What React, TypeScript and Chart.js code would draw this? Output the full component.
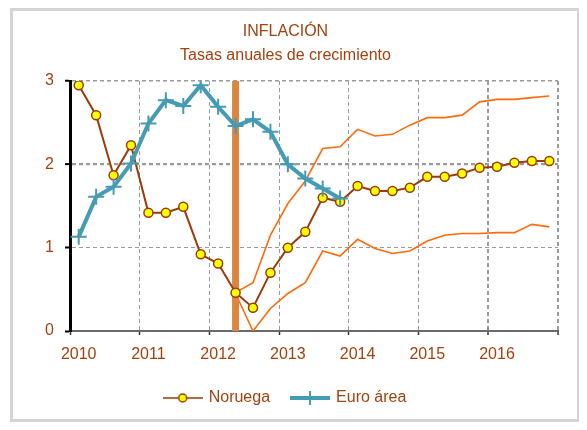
import { useEffect, useRef } from 'react';
import { Chart, registerables } from 'chart.js';

Chart.register(...registerables);

// ---- data ----
const years = ['2010', '2011', '2012', '2013', '2014', '2015', '2016'];
const quarterNames = ['T1', 'T2', 'T3', 'T4'];
const quarters = years.flatMap((y) => quarterNames.map((q) => `${y}${q}`));

const noruega = [
  2.95, 2.59, 1.87, 2.23, 1.42, 1.42, 1.49, 0.92, 0.81, 0.46, 0.28, 0.7, 1.0, 1.19,
  1.6, 1.55, 1.74, 1.68, 1.68, 1.72, 1.85, 1.85, 1.89, 1.96, 1.97, 2.02, 2.04, 2.04,
];
const euroArea = [
  1.13, 1.61, 1.73, 2.01, 2.49, 2.77, 2.7, 2.95, 2.69, 2.46, 2.54, 2.39, 2.0, 1.83, 1.71, 1.59,
];
const bandStart = '2012T2';
const bandUpper = [
  0.46, 0.58, 1.15, 1.53, 1.8, 2.19, 2.21, 2.42, 2.34, 2.36, 2.47, 2.56, 2.56, 2.59, 2.75, 2.78,
  2.78, 2.8, 2.82,
];
const bandLower = [
  0.45, 0.0, 0.27, 0.45, 0.58, 0.96, 0.9, 1.1, 0.99, 0.93, 0.96, 1.08, 1.15, 1.17, 1.17, 1.18,
  1.18, 1.28, 1.25,
];
const shockQuarter = '2012T2';
const yTicks = [0, 1, 2, 3];
const xYears = [2010, 2011, 2012, 2013, 2014, 2015, 2016, 2017];

const TEXT = '#A3420F';
const BROWN = '#9C3A08';
const TEAL = '#469BB4';
const ORANGE = '#FF6A0A';
const BAR = '#DA8640';
const FONT = "'Liberation Sans', Arial, sans-serif";

const xOf = (label: string) =>
  Number(label.slice(0, 4)) + (Number(label.slice(5)) - 0.5) / 4;

function seriesPoints(values: number[], startLabel: string) {
  const start = quarters.indexOf(startLabel);
  return values.map((v, i) => ({ x: xOf(quarters[start + i]), y: v }));
}

function makeIcon(kind: 'n' | 'e') {
  const c = document.createElement('canvas');
  c.width = 40;
  c.height = 18;
  const g = c.getContext('2d')!;
  g.lineCap = 'butt';
  if (kind === 'n') {
    g.strokeStyle = BROWN;
    g.lineWidth = 1.5;
    g.beginPath();
    g.moveTo(0, 9);
    g.lineTo(40, 9);
    g.stroke();
    g.beginPath();
    g.arc(20, 9, 4, 0, Math.PI * 2);
    g.fillStyle = '#FFFF00';
    g.fill();
    g.lineWidth = 1.5;
    g.stroke();
  } else {
    g.strokeStyle = TEAL;
    g.lineWidth = 4;
    g.beginPath();
    g.moveTo(0, 9);
    g.lineTo(40, 9);
    g.stroke();
    g.lineWidth = 2;
    g.beginPath();
    g.moveTo(20, 2);
    g.lineTo(20, 16);
    g.stroke();
  }
  return c;
}

export default function App() {
  const ref = useRef<HTMLCanvasElement>(null);

  useEffect(() => {
    if (!ref.current) return;
    const iconN = makeIcon('n');
    const iconE = makeIcon('e');
    const yMin = yTicks[0];
    const yMax = yTicks[yTicks.length - 1];

    const chart = new Chart(ref.current, {
      type: 'line',
      data: {
        datasets: [
          {
            label: 'Euro área',
            data: seriesPoints(euroArea, quarters[0]),
            borderColor: TEAL,
            borderWidth: 4,
            pointStyle: 'cross',
            pointRadius: 8,
            pointBorderWidth: 2,
            pointBorderColor: TEAL,
            pointBackgroundColor: TEAL,
          },
          {
            label: 'Noruega',
            data: seriesPoints(noruega, quarters[0]),
            borderColor: BROWN,
            borderWidth: 2,
            pointStyle: 'circle',
            pointRadius: 4.5,
            pointBorderWidth: 1.5,
            pointBorderColor: BROWN,
            pointBackgroundColor: '#FFFF00',
          },
          {
            label: 'shock',
            data: [
              { x: xOf(shockQuarter), y: yMin },
              { x: xOf(shockQuarter), y: yMax },
            ],
            borderColor: BAR,
            borderWidth: 7,
            borderCapStyle: 'butt',
            pointRadius: 0,
          },
          {
            label: 'upper',
            data: seriesPoints(bandUpper, bandStart),
            borderColor: ORANGE,
            borderWidth: 1.6,
            pointRadius: 0,
          },
          {
            label: 'lower',
            data: seriesPoints(bandLower, bandStart),
            borderColor: ORANGE,
            borderWidth: 1.6,
            pointRadius: 0,
          },
        ],
      },
      options: {
        responsive: false,
        animation: false,
        events: [],
        layout: { padding: { left: 0, right: 19, top: 0, bottom: 3 } },
        plugins: {
          tooltip: { enabled: false },
          title: {
            display: true,
            text: ['INFLACIÓN', 'Tasas anuales de crecimiento'],
            color: TEXT,
            font: { family: FONT, size: 16, weight: 'normal', lineHeight: 1.5 },
            padding: { top: 9, bottom: 13 },
          },
          legend: {
            position: 'bottom',
            labels: {
              usePointStyle: true,
              pointStyleWidth: 36,
              boxHeight: 16,
              padding: 22,
              color: TEXT,
              font: { family: FONT, size: 16 },
              generateLabels: () => [
                {
                  text: 'Noruega',
                  pointStyle: iconN,
                  fillStyle: 'transparent',
                  strokeStyle: 'transparent',
                  lineWidth: 0,
                  hidden: false,
                  datasetIndex: 1,
                  fontColor: TEXT,
                } as any,
                {
                  text: 'Euro área',
                  pointStyle: iconE,
                  fillStyle: 'transparent',
                  strokeStyle: 'transparent',
                  lineWidth: 0,
                  hidden: false,
                  datasetIndex: 0,
                  fontColor: TEXT,
                } as any,
              ],
            },
          },
        },
        scales: {
          x: {
            type: 'linear',
            min: xYears[0],
            max: xYears[xYears.length - 1],
            afterBuildTicks: (s: any) => {
              s.ticks = xYears.map((v) => ({ value: v }));
            },
            afterFit: (s: any) => {
              s.height = 37;
            },
            ticks: {
              stepSize: 1,
              autoSkip: false,
              maxRotation: 0,
              labelOffset: 8.7,
              padding: 10,
              color: TEXT,
              font: { family: FONT, size: 16 },
              callback: (v: any) => (v < xYears[xYears.length - 1] ? String(v) : ''),
            },
            grid: {
              color: '#9a9a9a',
              lineWidth: (c: any) => (c.tick && c.tick.value >= 2016 ? 2 : 1),
              tickColor: '#333',
              tickLength: 4,
              tickWidth: 1.5,
              tickBorderDash: [],
            },
            border: { display: true, color: '#6a6a6a', width: 2, dash: [4, 3] },
          },
          y: {
            type: 'linear',
            min: yMin,
            max: yMax,
            afterBuildTicks: (s: any) => {
              s.ticks = yTicks.map((v) => ({ value: v }));
            },
            afterFit: (s: any) => {
              s.width = 57;
            },
            ticks: {
              padding: 11,
              color: TEXT,
              font: { family: FONT, size: 16 },
              callback: (v: any) => String(v),
            },
            grid: {
              color: '#9a9a9a',
              lineWidth: (c: any) => (c.tick && c.tick.value === 2 ? 2.2 : c.tick && c.tick.value === 3 ? 1.5 : 1),
              tickColor: '#000',
              tickLength: 5,
              tickWidth: 2,
              tickBorderDash: [],
            },
            border: { display: true, color: '#000', width: 3, dash: [4, 3] },
          },
        },
      },
    });
    return () => chart.destroy();
  }, []);

  return (
    <div
      style={{
        marginLeft: 2,
        width: 564,
        height: 408,
        border: '3px solid #d4d4d4',
        boxShadow: '3px 3px 0 1px #8c8c8c',
        background: '#fff',
      }}
    >
      <canvas ref={ref} width={564} height={408} style={{ display: 'block' }} />
    </div>
  );
}
